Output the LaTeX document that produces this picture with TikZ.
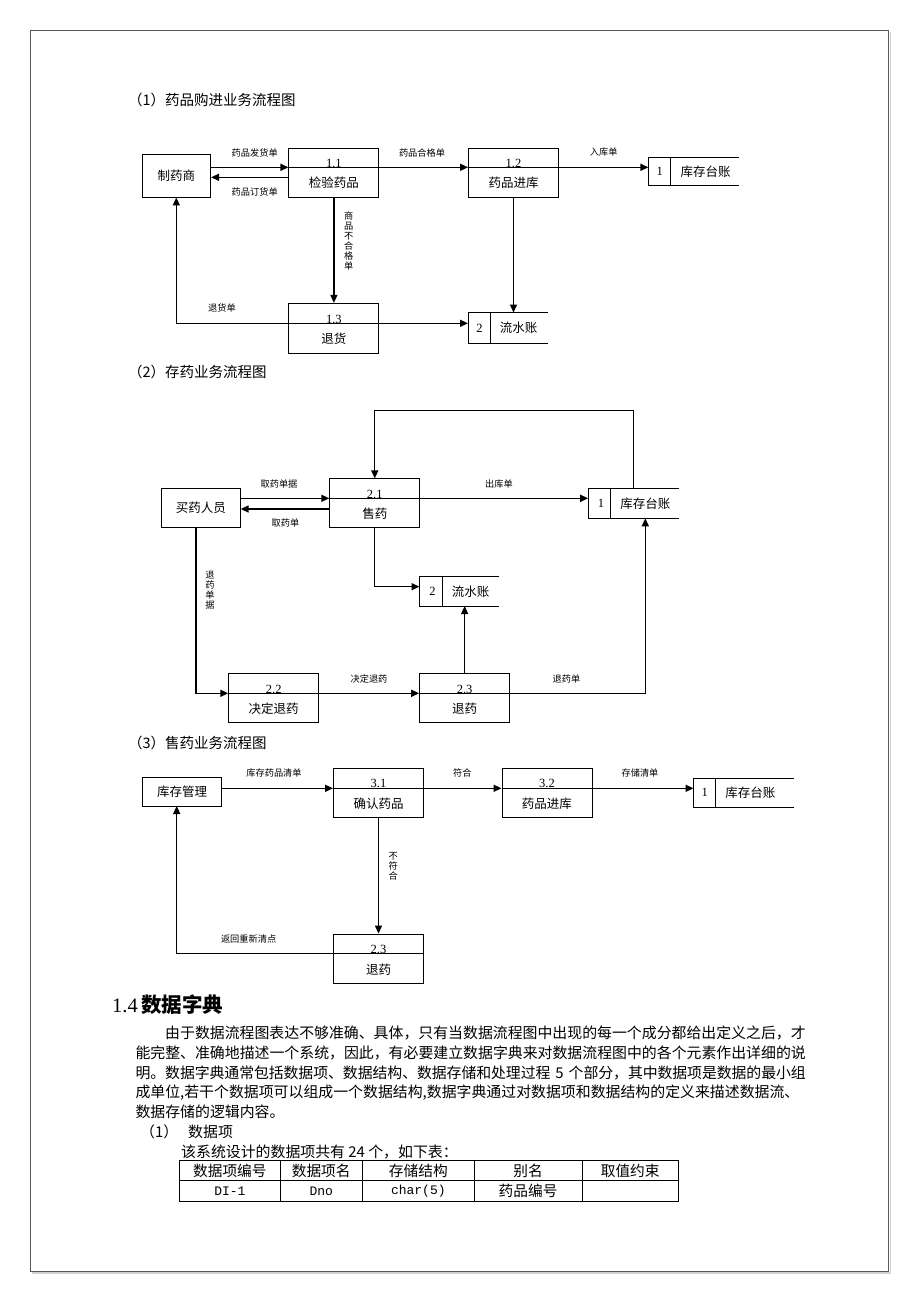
\documentclass[tikz,border=0pt]{standalone}
\usepackage{fontspec}
\setmainfont{Noto Sans CJK SC}
\newfontfamily\latn{Liberation Serif}
\newfontfamily\monofnt{Liberation Mono}
\usetikzlibrary{arrows.meta}
\XeTeXlinebreaklocale "zh"
\XeTeXlinebreakskip = 0pt plus 3pt minus 0.5pt

\begin{document}
\begin{tikzpicture}[x=1pt,y=-1pt]
  \tikzset{proc/.style = {draw, line width=0.9pt, inner sep=0pt, minimum width=90pt, minimum height=49pt}}
  \tikzset{extern/.style = {draw, line width=0.9pt, inner sep=0pt, font=\fontsize{12.5}{14}\selectfont}}
  \tikzset{store/.style = {inner sep=0pt, minimum height=29pt}}
  \tikzset{storeline/.style = {line width=0.9pt}}
  \tikzset{pnum/.style = {inner sep=0pt, font=\latn\fontsize{12.5}{14}\selectfont}}
  \tikzset{pname/.style = {inner sep=0pt, font=\fontsize{12.5}{14}\selectfont}}
  \tikzset{flow/.style = {line width=1.4pt, -{Triangle[length=8pt,width=7pt]}}}
  \tikzset{sepline/.style = {line width=1.2pt}}
  \tikzset{lbl/.style = {inner sep=0pt, font=\fontsize{9.2}{10}\selectfont}}
  \tikzset{vlbl/.style = {lbl, align=center}}
  \tikzset{title/.style = {anchor=west, inner sep=0pt, font=\fontsize{14.5}{16}\selectfont}}
  \tikzset{body/.style = {anchor=west, inner sep=0pt, font=\fontsize{14.9}{20}\selectfont}}
  \tikzset{bodyline/.style = {body, text width=#1}}
  \tikzset{cell/.style = {inner sep=0pt, font=\fontsize{14.7}{16}\selectfont}}

\useasboundingbox (0,0) rectangle (920,1303);
\fill[white] (0,0) rectangle (920,1303);
\draw[gray!35, line width=1.5pt] (32,1272.8) -- (890.3,1272.8) -- (890.3,32);
\draw[gray!70!black, line width=0.8pt] (30,30) rectangle (888.5,1271);

% (1) purchase
\node[title] (t1) at (128,100) {（1）药品购进业务流程图};

\node[extern, minimum width=68.6pt, minimum height=43pt] (zhiyao) at (176.3,175.5) {制药商};
\node[proc] (p11) at (333.9,172.5) {};
\node[pnum] (p11n) at (333.9,163) {1.1};
\node[pname] (p11t) at (333.9,183) {检验药品};
\node[proc] (p12) at (513.5,172.5) {};
\node[pnum] (p12n) at (513.5,163) {1.2};
\node[pname] (p12t) at (513.5,183) {药品进库};
\node[proc, minimum height=50pt] (p13) at (333.9,328.3) {};
\node[pnum] (p13n) at (333.9,319) {1.3};
\node[pname] (p13t) at (333.9,338.5) {退货};

\node[store, minimum width=89.8pt, minimum height=28.4pt] (d11) at (693.5,171.5) {};
\node[pnum] (d11n) at (659.8,171.5) {1};
\node[pname] (d11t) at (705.5,171.5) {库存台账};
\draw[storeline] (d11.north east) -- (d11.north west) -- (d11.south west) -- (d11.south east)
  ([xshift=22.4pt]d11.north west) -- ([xshift=22.4pt]d11.south west);
\node[store, minimum width=79.1pt, minimum height=30.6pt] (d12) at (507.75,328) {};
\node[pnum] (d12n) at (479.5,328) {2};
\node[pname] (d12t) at (518.5,328) {流水账};
\draw[storeline] (d12.north east) -- (d12.north west) -- (d12.south west) -- (d12.south east)
  ([xshift=22.4pt]d12.north west) -- ([xshift=22.4pt]d12.south west);

\coordinate (f1) at (0,167.3);
\coordinate (f2) at (0,177.3);
\coordinate (f3) at (0,323.3);

\draw[flow] (zhiyao.east |- f1) -- (p11.west |- f1);
\draw[flow] (p11.west |- f2) -- (zhiyao.east |- f2);
\draw[sepline] (p11.west |- f1) -- (p11.east |- f1);
\draw[flow] (p11.east |- f1) -- (p12.west |- f1);
\draw[sepline] (p12.west |- f1) -- (p12.east |- f1);
\draw[flow] (p12.east |- f1) -- (d11.west |- f1);
\draw[flow] (p11.south) -- (p13.north);
\draw[flow] (p12.south) -- (p12.south |- d12.north);
\draw[sepline] (p13.west |- f3) -- (p13.east |- f3);
\draw[flow] (p13.east |- f3) -- (d12.west |- f3);
\draw[flow] (p13.west |- f3) -- (zhiyao.south |- f3) -- (zhiyao.south);

\node[lbl] (l11) at (254.7,152.5) {药品发货单};
\node[lbl] (l12) at (254.7,191.7) {药品订货单};
\node[lbl] (l13) at (422,152.5) {药品合格单};
\node[lbl] (l14) at (603.7,152.5) {入库单};
\node[vlbl] (l15) at (348.6,241) {商\\品\\不\\合\\格\\单};
\node[lbl] (l16) at (222,308) {退货单};

% (2) storage
\node[title] (t2) at (128,371.7) {（2）存药业务流程图};

\node[extern, minimum width=78.8pt, minimum height=39pt] (maiyao) at (200.8,507.8) {买药人员};
\node[proc] (p21) at (374.75,503.35) {};
\node[pnum] (p21n) at (374.75,494.3) {2.1};
\node[pname] (p21t) at (374.75,513.3) {售药};
\node[proc] (p22) at (273.7,698.35) {};
\node[pnum] (p22n) at (273.7,689.3) {2.2};
\node[pname] (p22t) at (273.7,708.3) {决定退药};
\node[proc] (p23) at (464.65,698.35) {};
\node[pnum] (p23n) at (464.65,689.3) {2.3};
\node[pname] (p23t) at (464.65,708.3) {退药};

\node[store, minimum width=90.2pt, minimum height=30pt] (d21) at (633.5,503.3) {};
\node[pnum] (d21n) at (601,503.3) {1};
\node[pname] (d21t) at (645.3,503.3) {库存台账};
\draw[storeline] (d21.north east) -- (d21.north west) -- (d21.south west) -- (d21.south east)
  ([xshift=22.2pt]d21.north west) -- ([xshift=22.2pt]d21.south west);
\node[store, minimum width=79.5pt] (d22) at (459.45,591.35) {};
\node[pnum] (d22n) at (432.6,591.35) {2};
\node[pname] (d22t) at (470.7,591.35) {流水账};
\draw[storeline] (d22.north east) -- (d22.north west) -- (d22.south west) -- (d22.south east)
  ([xshift=22.9pt]d22.north west) -- ([xshift=22.9pt]d22.south west);

\coordinate (gtop) at (0,410.7);
\coordinate (g1) at (0,498.3);
\coordinate (g2) at (0,509);
\coordinate (g3) at (0,586.7);
\coordinate (g4) at (0,693.3);
\coordinate (mdown) at (195.8,527.3);
\coordinate (d21in) at (645.3,518.3);

\draw[flow] (d21.north) -- (d21.north |- gtop) -- (p21.north |- gtop) -- (p21.north);
\draw[flow] (maiyao.east |- g1) -- (p21.west |- g1);
\draw[flow] (p21.west |- g2) -- (maiyao.east |- g2);
\draw[sepline] (p21.west |- g1) -- (p21.east |- g1);
\draw[flow] (p21.east |- g1) -- (d21.west |- g1);
\draw[flow] (p21.south) -- (p21.south |- g3) -- (d22.west |- g3);
\draw[flow] (mdown) -- (mdown |- g4) -- (p22.west |- g4);
\draw[sepline] (p22.west |- g4) -- (p22.east |- g4);
\draw[flow] (p22.east |- g4) -- (p23.west |- g4);
\draw[sepline] (p23.west |- g4) -- (p23.east |- g4);
\draw[flow] (p23.north) -- (p23.north |- d22.south);
\draw[flow] (p23.east |- g4) -- (d21in |- g4) -- (d21in);

\node[lbl] (l21) at (279,484) {取药单据};
\node[lbl] (l22) at (285.4,522.7) {取药单};
\node[lbl] (l23) at (499,484) {出库单};
\node[vlbl] (l24) at (210,590) {退\\药\\单\\据};
\node[lbl] (l25) at (369,679) {决定退药};
\node[lbl] (l26) at (566.5,679) {退药单};

% (3) sales
\node[title] (t3) at (128,743.3) {（3）售药业务流程图};

\node[extern, minimum width=79.5pt, minimum height=28.3pt] (kucun) at (182,791.85) {库存管理};
\node[proc] (p31) at (378.5,792.8) {};
\node[pnum] (p31n) at (378.5,783.3) {3.1};
\node[pname] (p31t) at (378.5,803.3) {确认药品};
\node[proc] (p32) at (546.95,792.8) {};
\node[pnum] (p32n) at (546.95,783.3) {3.2};
\node[pname] (p32t) at (546.95,803.3) {药品进库};
\node[proc, minimum height=49.3pt] (p33) at (378.5,958.65) {};
\node[pnum] (p33n) at (378.5,949.3) {2.3};
\node[pname] (p33t) at (378.5,969.3) {退药};

\node[store, minimum width=100.3pt] (d31) at (743.85,792.8) {};
\node[pnum] (d31n) at (704.8,792.8) {1};
\node[pname] (d31t) at (750.4,792.8) {库存台账};
\draw[storeline] (d31.north east) -- (d31.north west) -- (d31.south west) -- (d31.south east)
  ([xshift=22.3pt]d31.north west) -- ([xshift=22.3pt]d31.south west);

\coordinate (h1) at (0,788.3);
\coordinate (h2) at (0,953.3);
\coordinate (kup) at (176.7,806);

\draw[flow] (kucun.east |- h1) -- (p31.west |- h1);
\draw[sepline] (p31.west |- h1) -- (p31.east |- h1);
\draw[flow] (p31.east |- h1) -- (p32.west |- h1);
\draw[sepline] (p32.west |- h1) -- (p32.east |- h1);
\draw[flow] (p32.east |- h1) -- (d31.west |- h1);
\draw[flow] (p31.south) -- (p33.north);
\draw[sepline] (p33.west |- h2) -- (p33.east |- h2);
\draw[flow] (p33.west |- h2) -- (kup |- h2) -- (kup);

\node[lbl] (l31) at (274,773.3) {库存药品清单};
\node[lbl] (l32) at (462.4,773.3) {符合};
\node[lbl] (l33) at (640,773.3) {存储清单};
\node[vlbl] (l34) at (393.2,866.5) {不\\符\\合};
\node[lbl] (l35) at (248.6,939.3) {返回重新清点};

% 1.4 text
\node[anchor=west, inner sep=0pt, font=\bfseries\fontsize{20.5}{22}\selectfont] (hd) at (112,1005)
  {{\latn\mdseries\fontsize{20.5}{22}\selectfont 1.4}\,数据字典};
\node[bodyline=640.5pt] (b1) at (165,1033) {\parfillskip=0pt 由于数据流程图表达不够准确、具体，只有当数据流程图中出现的每一个成分都给出定义之后，才};
\node[bodyline=670.3pt] (b2) at (135.3,1053) {\parfillskip=0pt 能完整、准确地描述一个系统，因此，有必要建立数据字典来对数据流程图中的各个元素作出详细的说};
\node[bodyline=670.3pt] (b3) at (135.3,1073) {\parfillskip=0pt 明。数据字典通常包括数据项、数据结构、数据存储和处理过程 5 个部分，其中数据项是数据的最小组};
\node[bodyline=670.3pt] (b4) at (135.3,1093) {\parfillskip=0pt 成单位,若干个数据项可以组成一个数据结构,数据字典通过对数据项和数据结构的定义来描述数据流、};
\node[body] (b5) at (135.3,1112) {数据存储的逻辑内容。};
\node[body] (it1) at (140,1132) {（1）};
\node[body] (it1t) at (188,1132) {数据项};
\node[body] (b6) at (181,1152) {该系统设计的数据项共有 24 个，如下表：};

\draw[line width=0.8pt] (179.8,1160.7) rectangle (678.4,1201);
\draw[line width=0.7pt] (179.8,1180.7) -- (678.4,1180.7);
\foreach \cx in {279.9,362.5,474.1,582} \draw[line width=0.7pt] (\cx,1160.7) -- (\cx,1201);

\node[cell] (c11) at (229.85,1171) {数据项编号};
\node[cell] (c12) at (321.2,1171) {数据项名};
\node[cell] (c13) at (418.3,1171) {存储结构};
\node[cell] (c14) at (528.05,1171) {别名};
\node[cell] (c15) at (630.2,1171) {取值约束};
\node[cell, font=\monofnt\fontsize{13}{15}\selectfont] (c21) at (229.85,1191) {DI-1};
\node[cell, font=\monofnt\fontsize{13}{15}\selectfont] (c22) at (321.2,1191) {Dno};
\node[cell, font=\monofnt\fontsize{13}{15}\selectfont] (c23) at (418.3,1191) {char(5)};
\node[cell] (c24) at (528.05,1191) {药品编号};

\end{tikzpicture}
\end{document}
